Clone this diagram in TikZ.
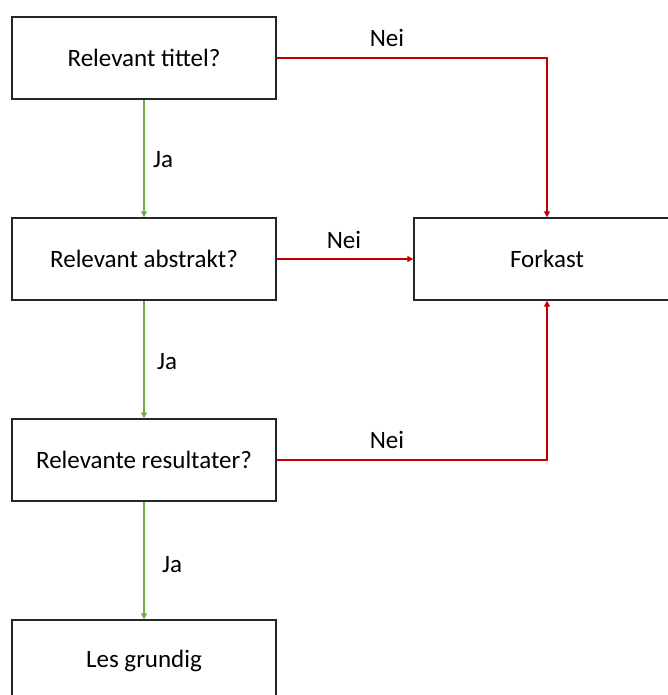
\documentclass[tikz,border=0pt]{standalone}
\usepackage{fontspec}
\setmainfont{Carlito}
\usetikzlibrary{arrows.meta}
\definecolor{ogreen}{RGB}{112,173,71}
\definecolor{ored}{RGB}{192,0,0}
\begin{document}
\begin{tikzpicture}[x=1pt,y=-1pt,
  box/.style={draw=black!85,line width=1.4pt,minimum width=264pt,minimum height=82pt,inner sep=0pt,font=\fontsize{25}{28}\selectfont,fill=white},
  yes/.style={draw=ogreen,line width=1.4pt,-{Triangle[length=6pt,width=6pt]}},
  no/.style={draw=ored,line width=1.4pt,-{Triangle[length=6pt,width=6pt]}},
  lbl/.style={font=\fontsize{25}{28}\selectfont,inner sep=0pt}]
\useasboundingbox (0,0) rectangle (667,695);
\node[box] (t) at (144,58) {Relevant tittel?};
\node[box] (a) at (144,259) {Relevant abstrakt?};
\node[box] (r) at (144,460) {Relevante resultater?};
\node[box] (g) at (144,661) {Les grundig};
\node[box,minimum width=266pt] (f) at (547,259) {Forkast};
\draw[yes] (t) -- (a);
\draw[yes] (a) -- (r);
\draw[yes] (r) -- (g);
\draw[no] (t.east) -| (f.north);
\draw[no] (a.east) -- (f.west);
\draw[no] (r.east) -| (f.south);
\node[lbl] (n1) at (387,38) {Nei};
\node[lbl] (n2) at (344,240) {Nei};
\node[lbl] (n3) at (387,440) {Nei};
\node[lbl] (j1) at (163,160) {Ja};
\node[lbl] (j2) at (167,362) {Ja};
\node[lbl] (j3) at (172,565) {Ja};
\end{tikzpicture}
\end{document}
